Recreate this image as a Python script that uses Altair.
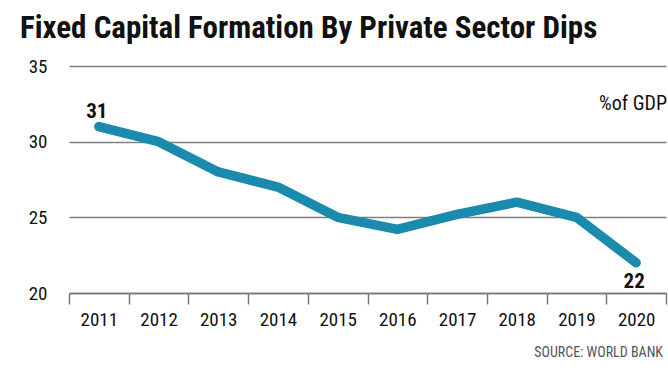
import altair as alt
import pandas as pd

years = ["2011", "2012", "2013", "2014", "2015", "2016", "2017", "2018", "2019", "2020"]
values = [31, 30, 28, 27, 25, 24.2, 25.2, 26, 25, 22]
label_years = ["2011", "2020"]
label_texts = ["31", "22"]

title_text = "Fixed Capital Formation By Private Sector Dips"
unit_text = "%of GDP"
source_text = "SOURCE: WORLD BANK"

FONT = "Roboto Condensed, DejaVu Sans Condensed, Roboto, sans-serif"
LINE_COLOR = "#1a8aad"

df = pd.DataFrame({"year": years, "value": values})
lab = df[df["year"].isin(label_years)].copy()
lab["text"] = label_texts

W, H = 597, 227

x = alt.X(
    "year:N",
    scale=alt.Scale(paddingInner=0, paddingOuter=0),
    axis=alt.Axis(
        title=None, tickBand="extent", labelAngle=0, labelFont=FONT, labelFontSize=19,
        labelColor="#111", labelPadding=6, tickSize=11, tickColor="#777", domainColor="#777",
        tickWidth=1.5, domainWidth=1.5, grid=False,
    ),
)
y = alt.Y(
    "value:Q",
    scale=alt.Scale(domain=[20, 35], nice=False, zero=False),
    axis=alt.Axis(
        title=None, values=[20, 25, 30, 35], domain=False, ticks=False, labelPadding=22,
        labelFont=FONT, labelFontSize=19, labelColor="#111", gridColor="#808080", gridWidth=1.5,
    ),
)

line = alt.Chart(df).mark_line(
    color=LINE_COLOR, strokeWidth=9.5, strokeCap="round", strokeJoin="round"
).encode(x=x, y=y)

first = alt.Chart(lab[lab["year"] == label_years[0]]).mark_text(
    font=FONT, fontSize=21, fontWeight="bold", color="#111", dy=-15, dx=-2
).encode(x=x, y=y, text="text:N")

last = alt.Chart(lab[lab["year"] == label_years[1]]).mark_text(
    font=FONT, fontSize=21, fontWeight="bold", color="#111", dy=19, dx=-2
).encode(x=x, y=y, text="text:N")

title = alt.Chart(pd.DataFrame({"t": [title_text]})).mark_text(
    font=FONT, fontSize=31, fontWeight="bold", color="#111", align="left", baseline="alphabetic"
).encode(x=alt.value(-49), y=alt.value(-28), text="t:N")

unit = alt.Chart(pd.DataFrame({"t": [unit_text]})).mark_text(
    font=FONT, fontSize=20, color="#111", align="right", baseline="alphabetic"
).encode(x=alt.value(W + 1), y=alt.value(44), text="t:N")

source = alt.Chart(pd.DataFrame({"t": [source_text]})).mark_text(
    font=FONT, fontSize=14, color="#555", align="right", baseline="alphabetic"
).encode(x=alt.value(W - 3), y=alt.value(64 + H), text="t:N")

chart = alt.layer(line, first, last, title, unit, source).properties(
    width=W, height=H,
    autosize=alt.AutoSizeParams(type="none"),
    padding={"left": 69, "top": 66, "right": 2, "bottom": 82},
    background="white",
).configure_view(stroke=None)

chart.save("out.html", embed_options={"renderer": "svg", "actions": False})
